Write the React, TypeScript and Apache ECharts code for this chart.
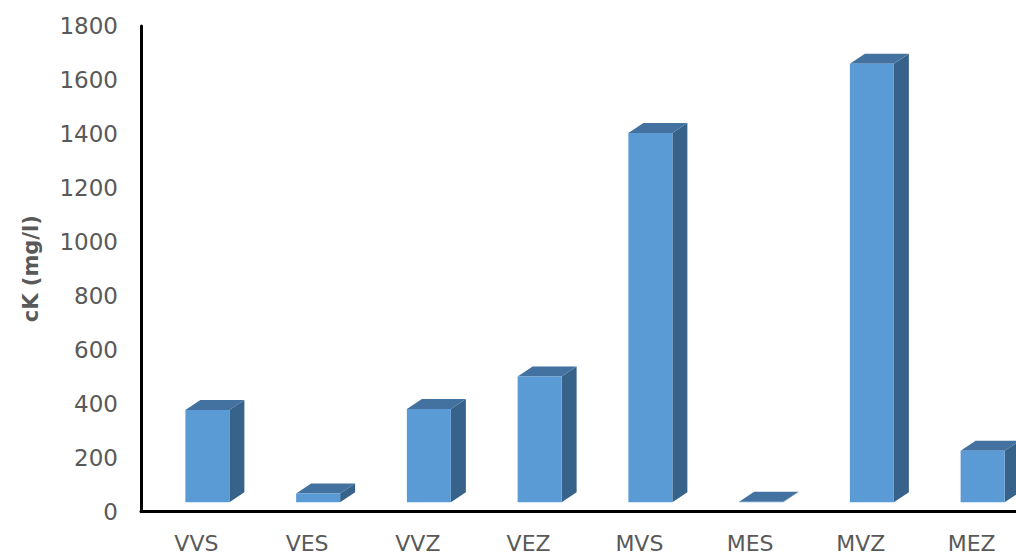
import React, { useEffect, useRef } from "react";
import * as echarts from "echarts";

// Potassium concentration per sample
const categories = ["VVS", "VES", "VVZ", "VEZ", "MVS", "MES", "MVZ", "MEZ"];
const potassium = [342, 33, 346, 466, 1369, 2, 1626, 191];
const yTicks = { min: 0, max: 1800, interval: 200 };

const FRONT = "#5B9BD5";
const TOP = "#4372A0";
const SIDE = "#37628A";
const TEXT = "#595959";
const FONT = "DejaVu Sans";

export default function App() {
  const ref = useRef<HTMLDivElement>(null);

  useEffect(() => {
    if (!ref.current) return;
    const chart = echarts.init(ref.current, undefined, { renderer: "svg" });

    // Oblique 3D column: front face, top face and right side face
    const renderItem = (params: any, api: any) => {
      const idx = api.value(0);
      const val = api.value(1);
      const base = api.coord([idx, 0]);
      const top = api.coord([idx, val]);
      const lift = 9.2;
      const halfW = 22;
      const dx = 15;
      const dy = 10;
      const cx = base[0] + 11;
      const l = cx - halfW;
      const r = cx + halfW;
      const yb = base[1] - lift;
      const yt = top[1] - lift;
      return {
        type: "group",
        children: [
          {
            type: "polygon",
            shape: {
              points: [
                [r, yt],
                [r + dx, yt - dy],
                [r + dx, yb - dy],
                [r, yb],
              ],
            },
            style: { fill: SIDE },
          },
          {
            type: "polygon",
            shape: {
              points: [
                [l, yt],
                [r, yt],
                [r + dx, yt - dy],
                [l + dx, yt - dy],
              ],
            },
            style: { fill: TOP },
          },
          {
            type: "rect",
            shape: { x: l, y: yt, width: halfW * 2, height: Math.max(yb - yt, 0) },
            style: { fill: FRONT },
          },
        ],
      };
    };

    chart.setOption({
      animation: false,
      grid: { left: 141, top: 26, width: 886, height: 485.5 },
      xAxis: {
        type: "category",
        data: categories,
        boundaryGap: true,
        axisLine: { show: true, lineStyle: { color: "#000", width: 3 } },
        axisTick: { show: false },
        axisLabel: { color: TEXT, fontFamily: FONT, fontSize: 22, margin: 21 },
        splitLine: { show: false },
      },
      yAxis: {
        type: "value",
        min: yTicks.min,
        max: yTicks.max,
        interval: yTicks.interval,
        name: "cK (mg/l)",
        nameLocation: "middle",
        nameRotate: 90,
        nameGap: 100,
        nameTextStyle: { color: TEXT, fontFamily: FONT, fontSize: 21, fontWeight: "bold" },
        axisLine: { show: true, lineStyle: { color: "#000", width: 3 } },
        axisTick: { show: false },
        axisLabel: {
          color: TEXT,
          fontFamily: FONT,
          fontSize: 23,
          margin: 23,
          formatter: (v: number) => String(v),
        },
        splitLine: { show: false },
      },
      series: [
        {
          type: "custom",
          renderItem,
          data: potassium.map((v, i) => [i, v]),
          encode: { x: 0, y: 1 },
          clip: false,
        },
      ],
    });

    return () => chart.dispose();
  }, []);

  return (
    <div
      style={{
        position: "fixed",
        left: 0,
        top: 0,
        width: 1016,
        height: 556,
        overflow: "hidden",
        background: "#fff",
      }}
    >
      <div ref={ref} style={{ width: 1040, height: 556 }} />
    </div>
  );
}
